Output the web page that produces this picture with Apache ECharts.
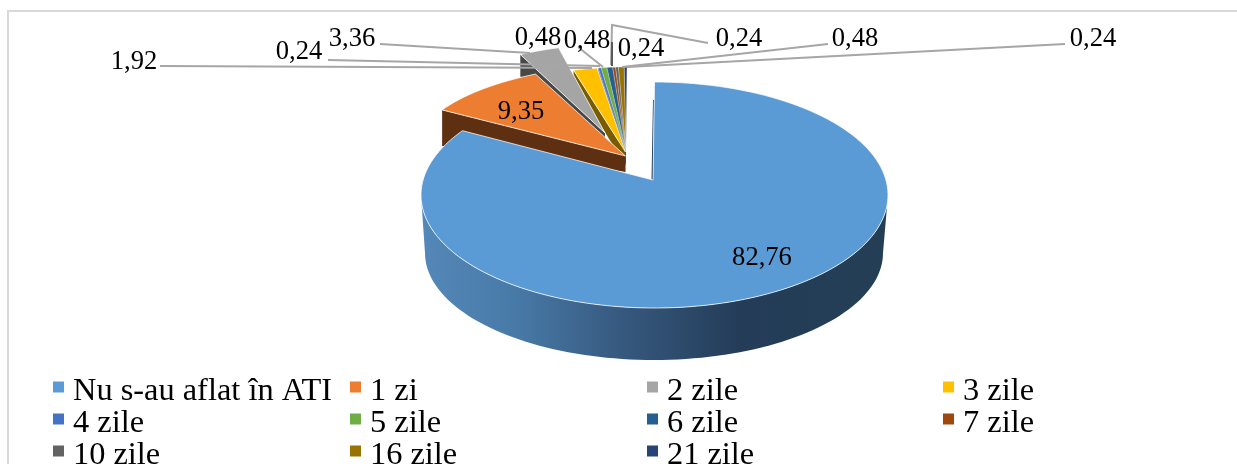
<!DOCTYPE html>
<html><head><meta charset="utf-8">
<style>html,body{margin:0;padding:0;background:#fff;overflow:hidden}#c{width:1237px;height:464px}</style>
<script src="https://cdn.jsdelivr.net/npm/echarts@6/dist/echarts.min.js"></script>
</head><body><div id="c"></div>
<script>
const categories = ['Nu s-au aflat în ATI','1 zi','2 zile','3 zile','4 zile','5 zile','6 zile','7 zile','10 zile','16 zile','21 zile'];
const values = [82.76,9.35,3.36,1.92,0.24,0.48,0.48,0.24,0.24,0.48,0.24];
const colors = ['#5b9bd5','#ed7d31','#a5a5a5','#ffc000','#4472c4','#70ad47','#255e91','#9e480e','#636363','#997300','#264478'];
const wallColors = ['#375a80','#5f2f12','#484848','#7a5c00','#294478','#43682b','#16395a','#5f2b08','#3c3c3c','#5c4500','#172948'];

// Per-slice perspective projection of the pie plane: rim ellipse, apex, wall depth at rim / at apex
const small = {cx:627,cy:152,rx:192,ry:85,ax:626,ay:151,d2:7,d1:13};
const geometry = [
  {cx:654.5,cy:195,rx:233.5,ry:113,ax:653,ay:180,warp:1.0205},
  {cx:640.6,cy:152,rx:226,ry:88,ax:625.5,ay:156,d2:36,d1:16},
  {cx:611,cy:131.6,rx:195,ry:87,ax:605,ay:133,d2:22,d1:14},
  {cx:627,cy:152,rx:199,ry:85,ax:625.5,ay:152,d2:10,d1:14},
  small,small,small,small,small,small,small
];
const wallBottom = {cx:654,cy:253,rx:229,ry:107};

const labelAnchors = [[762,258],[521,112],[352,39],[134,62],[299,52],[538,38],[587,41],[641,49],[739,39],[855,39],[1093,39]];
const leaders = [
  {pts:[[160,66],[592,68]],color:'#a6a6a6'},
  {pts:[[328,60],[600,66]],color:'#a6a6a6'},
  {pts:[[380,44],[530,53]],color:'#a6a6a6'},
  {pts:[[578,47],[603,67]],color:'#a6a6a6'},
  {pts:[[708,43],[612,25],[611,65]],color:'#a6a6a6'},
  {pts:[[612,42],[612,66]],color:'#5a5a5a'},
  {pts:[[828,44],[622,67]],color:'#a6a6a6'},
  {pts:[[1065,44],[627,67]],color:'#a6a6a6'}
];
const legendColumns = [[0,4,8],[1,5,9],[2,6,10],[3,7]];
const legendLeft = [53,350,647,943];

const FONT = '"Liberation Serif", serif';
const total = values.reduce((a,b)=>a+b,0);
const starts = values.map((_, i)=>values.slice(0,i).reduce((a,b)=>a+b,0)/total*360);
const rad = d=>d*Math.PI/180;
const onEllipse = (e,deg)=>[e.cx+e.rx*Math.sin(rad(deg)), e.cy-e.ry*Math.cos(rad(deg))];
function arc(e,a,b){const n=Math.max(2,Math.ceil(Math.abs(b-a)/2));const p=[];for(let k=0;k<=n;k++)p.push(onEllipse(e,a+(b-a)*k/n));return p;}

function renderSlice(i){
  return function(params, api){
    const v = api.value(0);
    const g = geometry[i];
    const a = starts[i], b = a + v/total*360*(g.warp||1);
    const children = [];
    const top = arc(g,a,b);
    if(i===0){
      const wall = arc(g,90,270).concat(arc(wallBottom,270,90));
      children.push({type:'polygon',shape:{points:wall},silent:true,style:{fill:new echarts.graphic.LinearGradient(0,0,1,0,[
        {offset:0,color:'#5488b8'},{offset:.2,color:'#487aa8'},{offset:.42,color:'#375a80'},{offset:.68,color:'#243c58'},{offset:1,color:'#233f55'}])}});
      const t=top[0];
      children.push({type:'polygon',shape:{points:[[t[0]-.5,t[1]+18],[g.ax,g.ay],[g.ax-1.5,g.ay],[t[0]-1.5,t[1]+18]]},silent:true,style:{fill:'#1f3a55'}});
    } else {
      const s = top[0];
      children.push({type:'polygon',shape:{points:[s,[g.ax,g.ay],[g.ax,g.ay+g.d1],[s[0],s[1]+g.d2]]},silent:true,style:{fill:wallColors[i]}});
    }
    children.push({type:'polygon',shape:{points:top.concat([[g.ax,g.ay]])},silent:true,
      style:{fill:colors[i],stroke:'rgba(255,255,255,0.75)',lineWidth:i>3?0.4:1}});
    return {type:'group',children};
  };
}

const sliceSeries = categories.map((name,i)=>({
  type:'custom',name,coordinateSystem:'none',silent:true,animation:false,clip:false,
  z:i===0?30:(20-i),
  itemStyle:{color:colors[i]},
  data:[[values[i]]],
  renderItem:renderSlice(i)
}));

const labelSeries = {
  type:'custom',name:'labels',coordinateSystem:'none',silent:true,animation:false,z:50,
  data:values.map(v=>[v]),
  renderItem(params,api){
    const idx = params.dataIndex, children=[];
    if(idx===0) leaders.forEach(l=>children.push({type:'polyline',shape:{points:l.pts},silent:true,style:{fill:'none',stroke:l.color,lineWidth:2}}));
    children.push({type:'text',silent:true,z2:5,style:{x:labelAnchors[idx][0],y:labelAnchors[idx][1],
      text:api.value(0).toFixed(2).replace('.',','),font:'26.6px '+FONT,fill:'#000',align:'center',verticalAlign:'middle'}});
    return {type:'group',children};
  }
};

const chart = echarts.init(document.getElementById('c'),null,{renderer:'canvas'});
chart.setOption({
  animation:false,backgroundColor:'#fff',
  legend:legendColumns.map((col,c)=>({
    orient:'vertical',left:legendLeft[c],top:367,height:240,icon:'rect',itemWidth:11,itemHeight:11,itemGap:-8,selectedMode:false,
    padding:0,data:col.map(i=>categories[i]),
    formatter:'{a|{name}}',
    textStyle:{rich:{a:{fontFamily:FONT,fontSize:32.4,color:'#000',lineHeight:33,padding:[8,0,0,4]}}}
  })),
  graphic:[
    {type:'line',silent:true,shape:{x1:8,y1:11,x2:1237,y2:11},style:{stroke:'#d9d9d9',lineWidth:2},z:0},
    {type:'line',silent:true,shape:{x1:8,y1:10,x2:8,y2:464},style:{stroke:'#d9d9d9',lineWidth:2},z:0}
  ],
  series:sliceSeries.concat([labelSeries])
});
</script></body></html>
